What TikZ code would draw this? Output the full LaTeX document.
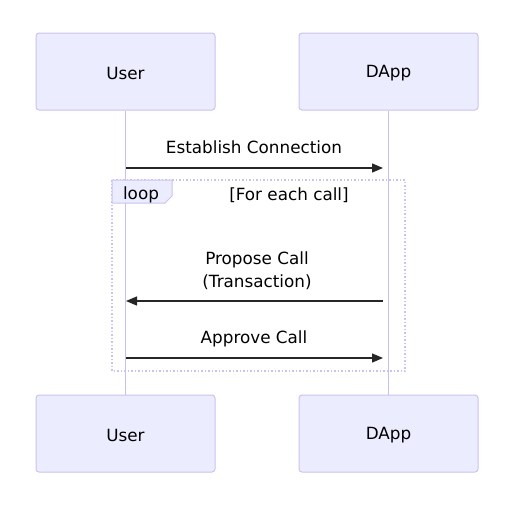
\documentclass[tikz,border=0pt]{standalone}
\usepackage{fontspec}
\setmainfont{DejaVu Sans}
\usetikzlibrary{arrows.meta}
\definecolor{actfill}{HTML}{ECECFF}
\definecolor{actline}{HTML}{CCC2F0}
\definecolor{lifeline}{HTML}{CBBFF0}
\begin{document}
\begin{tikzpicture}[x=1pt,y=-1pt,
  actor/.style={draw=actline, fill=actfill, rounded corners=3pt, line width=1pt, minimum width=179pt, minimum height=77pt, inner sep=0pt},
  atext/.style={font=\fontsize{16.8}{20}\selectfont, inner sep=0pt},
  life/.style={draw=lifeline, line width=1.6pt},
  msg/.style={draw=black!85, line width=1.3pt, -{Triangle[length=11pt,width=9pt]}},
  lbl/.style={font=\fontsize{16.8}{23.5}\selectfont, align=center, inner sep=0pt}]
\useasboundingbox (0,0) rectangle (520,512);
\node[actor] (u1) at (125.5,71.5) {};
\node[actor] (d1) at (388.5,71.5) {};
\node[actor] (u2) at (125.5,433.5) {};
\node[actor] (d2) at (388.5,433.5) {};
\node[atext] (u1t) at (125.5,73) {User};
\node[atext] (d1t) at (388.5,73) {DApp};
\node[atext] (u2t) at (125.5,435) {User};
\node[atext] (d2t) at (388.5,435) {DApp};
\draw[life] (u1.south) -- (u2.north);
\draw[life] (d1.south) -- (d2.north);
% loop box
\draw[draw=actline, line width=1.5pt, dash pattern=on 1.5pt off 2pt] (112,180) rectangle (405,371);
\draw[draw=actline, fill=actfill, line width=1pt] (112,180) -- (172,180) -- (172,196) -- (165,203) -- (112,203) -- cycle;
\node[lbl] (looplbl) at (141,194.5) {loop};
\node[lbl] (cond) at (289,195) {[For each call]};
% messages
\coordinate (m1a) at (126,168); \coordinate (m1b) at (383,168);
\draw[msg] (m1a) -- (m1b);
\node[lbl] (t1) at (254,147) {Establish Connection};
\coordinate (m2a) at (383,301); \coordinate (m2b) at (126,301);
\draw[msg] (m2a) -- (m2b);
\node[lbl] (t2) at (257,270.5) {Propose Call\\(Transaction)};
\coordinate (m3a) at (126,358); \coordinate (m3b) at (383,358);
\draw[msg] (m3a) -- (m3b);
\node[lbl] (t3) at (254,339) {Approve Call};
\end{tikzpicture}
\end{document}
